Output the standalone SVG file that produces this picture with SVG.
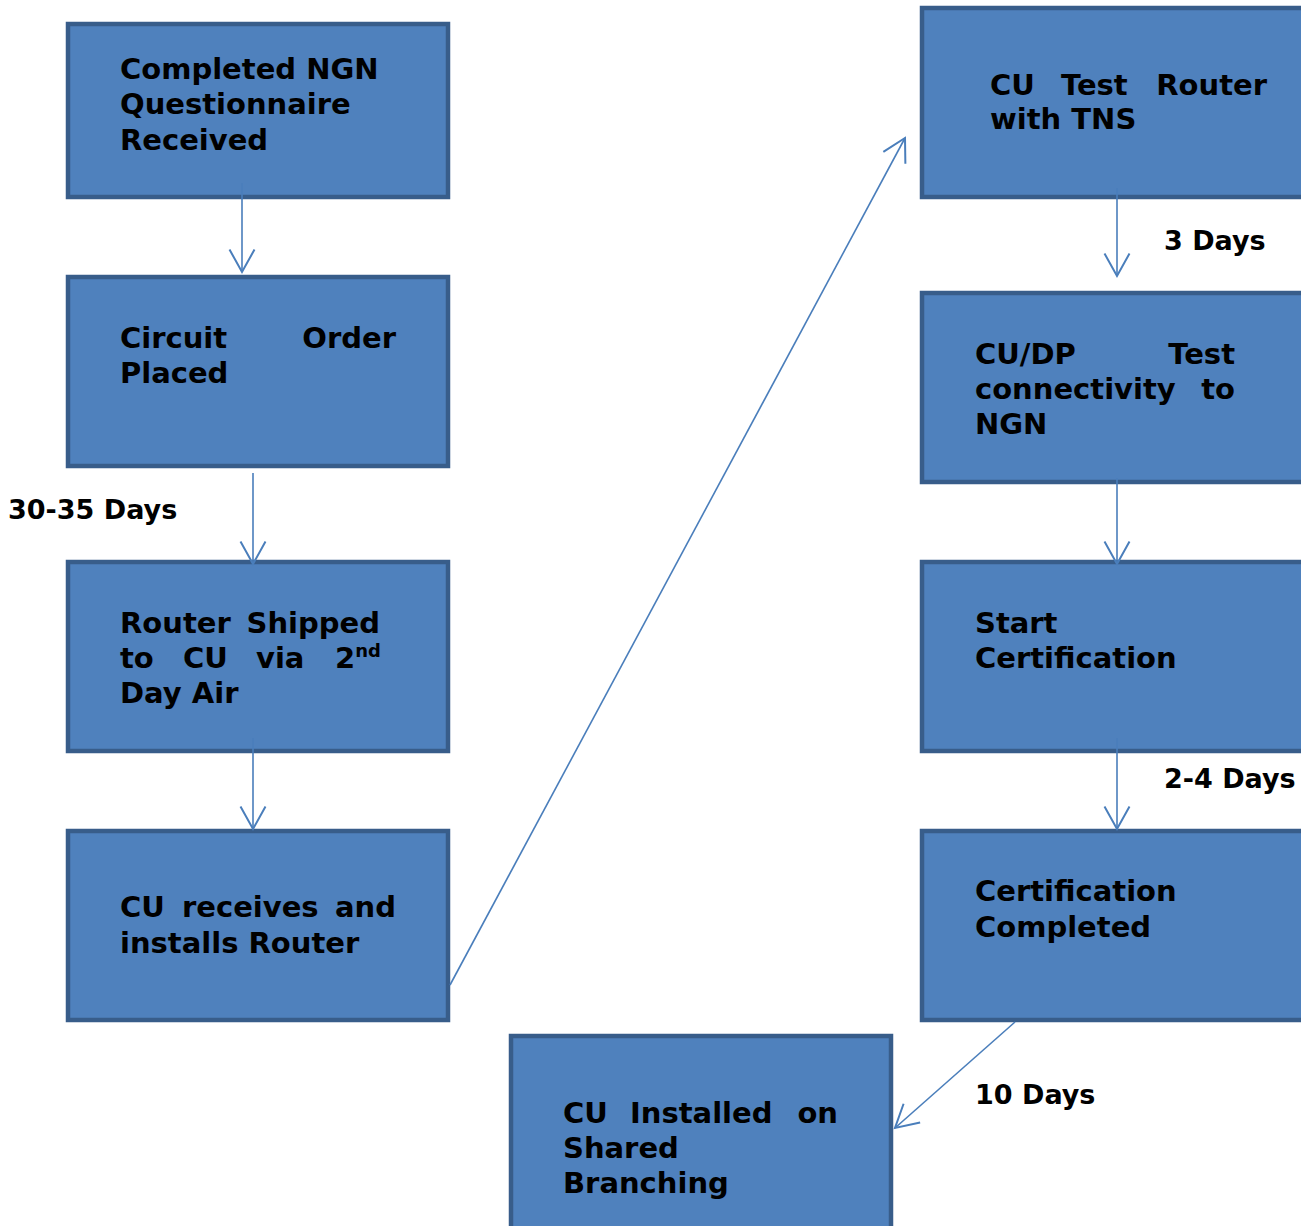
<svg xmlns="http://www.w3.org/2000/svg" width="1301" height="1226" viewBox="0 0 1301 1226">
<style>
.box{fill:#4F81BD;stroke:#385D8A;stroke-width:4.5}
.t{font-family:"DejaVu Sans","Verdana",sans-serif;font-weight:bold;font-size:29px;fill:#000}
.lbl{font-family:"DejaVu Sans","Verdana",sans-serif;font-weight:bold;font-size:27px;fill:#000}
.sup{font-size:18px}
.e{text-anchor:end}
.c{fill:none;stroke:#4A7EBB;stroke-width:1.6}
</style>
<defs>
<marker id="arr" markerUnits="userSpaceOnUse" markerWidth="30" markerHeight="30" viewBox="-20 -12 22 24" refX="0" refY="0" orient="auto">
<path d="M-18,-10 L0,0 L-18,10" fill="none" stroke="#4A7EBB" stroke-width="1.6"/>
</marker>
</defs>
<rect width="1301" height="1226" fill="#fff"/>
<g id="n1"><rect class="box" x="68" y="24" width="380" height="173"/>
<text class="t" x="120" y="79">Completed NGN</text>
<text class="t" x="120" y="114">Questionnaire</text>
<text class="t" x="120" y="150">Received</text></g>
<g id="n2"><rect class="box" x="68" y="277" width="380" height="189"/>
<text class="t" x="120" y="348">Circuit</text><text class="t e" x="396" y="348">Order</text>
<text class="t" x="120" y="383">Placed</text></g>
<g id="n3"><rect class="box" x="68" y="562" width="380" height="189"/>
<text class="t" x="120" y="633">Router</text><text class="t e" x="380" y="633">Shipped</text>
<text class="t" x="120" y="668">to</text><text class="t" x="183" y="668">CU</text><text class="t" x="256" y="668">via</text><text class="t" x="335" y="668">2<tspan class="sup" dy="-11">nd</tspan></text>
<text class="t" x="120" y="703">Day Air</text></g>
<g id="n4"><rect class="box" x="68" y="831" width="380" height="189"/>
<text class="t" x="120" y="917">CU</text><text class="t" x="182" y="917">receives</text><text class="t e" x="396" y="917">and</text>
<text class="t" x="120" y="953">installs Router</text></g>
<g id="n5"><rect class="box" x="922" y="8" width="400" height="189"/>
<text class="t" x="990" y="95">CU</text><text class="t" x="1061" y="95">Test</text><text class="t e" x="1267" y="95">Router</text>
<text class="t" x="990" y="129">with TNS</text></g>
<g id="n6"><rect class="box" x="922" y="293" width="400" height="189"/>
<text class="t" x="975" y="364">CU/DP</text><text class="t e" x="1235" y="364">Test</text>
<text class="t" x="975" y="399">connectivity</text><text class="t e" x="1235" y="399">to</text>
<text class="t" x="975" y="434">NGN</text></g>
<g id="n7"><rect class="box" x="922" y="562" width="400" height="189"/>
<text class="t" x="975" y="633">Start</text>
<text class="t" x="975" y="668">Certification</text></g>
<g id="n8"><rect class="box" x="922" y="831" width="400" height="189"/>
<text class="t" x="975" y="901">Certification</text>
<text class="t" x="975" y="937">Completed</text></g>
<g id="n9"><rect class="box" x="511" y="1036" width="380" height="200"/>
<text class="t" x="563" y="1123">CU</text><text class="t" x="630" y="1123">Installed</text><text class="t e" x="838" y="1123">on</text>
<text class="t" x="563" y="1158">Shared</text>
<text class="t" x="563" y="1193">Branching</text></g>
<g id="labels">
<text class="lbl" x="8" y="519">30-35 Days</text>
<text class="lbl" x="1164" y="250">3 Days</text>
<text class="lbl" x="1164" y="788">2-4 Days</text>
<text class="lbl" x="975" y="1104">10 Days</text>
</g>
<g id="connectors">
<line class="c" x1="242" y1="183" x2="242" y2="272" marker-end="url(#arr)"/>
<line class="c" x1="253" y1="473" x2="253" y2="564" marker-end="url(#arr)"/>
<line class="c" x1="253" y1="738" x2="253" y2="829" marker-end="url(#arr)"/>
<line class="c" x1="450" y1="985" x2="905" y2="138" marker-end="url(#arr)"/>
<line class="c" x1="1117" y1="188" x2="1117" y2="276" marker-end="url(#arr)"/>
<line class="c" x1="1117" y1="478" x2="1117" y2="564" marker-end="url(#arr)"/>
<line class="c" x1="1117" y1="738" x2="1117" y2="829" marker-end="url(#arr)"/>
<line class="c" x1="1015" y1="1022" x2="895" y2="1128" marker-end="url(#arr)"/>
</g>
</svg>
